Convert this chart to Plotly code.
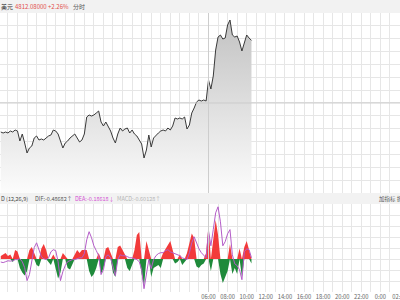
import pandas as pd
import plotly.graph_objects as go

# ---------------- data ----------------
prev_close = 4705.73
price = [4656.4, 4654.7, 4656.4, 4654.7, 4658.1, 4656.4, 4659.8, 4658.1, 4641.1, 4653.0, 4637.7,
         4620.7, 4629.2, 4632.6, 4646.2, 4649.6, 4642.8, 4644.5, 4642.8, 4646.2, 4649.6,
         4651.3, 4659.8, 4658.1, 4653.0, 4641.1, 4629.2, 4637.7, 4641.1, 4646.2, 4649.6,
         4653.0, 4646.2, 4639.4, 4642.8, 4653.0, 4681.9, 4685.3, 4683.6, 4685.3, 4688.7,
         4692.1, 4673.4, 4666.6, 4673.4, 4664.9, 4658.1, 4646.2, 4637.7, 4653.0, 4663.2,
         4658.1, 4661.5, 4663.2, 4654.7, 4659.8, 4653.0, 4649.6, 4642.8, 4636.0, 4612.2,
         4625.8, 4651.3, 4630.9, 4646.2, 4651.3, 4654.7, 4658.1, 4659.8, 4658.1, 4663.2,
         4659.8, 4666.6, 4680.2, 4678.5, 4680.2, 4678.5, 4681.9, 4661.5, 4668.3, 4688.7,
         4697.2, 4707.4, 4710.8, 4709.1, 4710.8, 4709.1, 4744.8, 4729.5, 4751.6, 4795.8,
         4817.9, 4821.3, 4814.5, 4816.2, 4838.3, 4846.8, 4821.3, 4817.9, 4819.6, 4809.4,
         4794.1, 4809.4, 4821.3, 4816.2, 4812.08]

dea = [-0.10, -0.12, -0.09, -0.06, -0.07, -0.06, -0.02, -0.02, 0.01, -0.09, -0.29,
       -0.72, -0.52, 0.01, 0.38, 0.54, 0.31, 0.08, 0.01, -0.02, 0.04,
       0.24, 0.31, 0.28, -0.09, -0.72, -0.42, -0.22, -0.09, -0.06, -0.02,
       -0.02, 0.01, 0.04, 0.04, 0.18, 0.64, 0.91, 0.71, 0.44, 0.28,
       0.11, -0.52, -0.36, 0.08, 0.14, 0.04, -0.29, -0.56, -0.02, 0.14,
       0.11, 0.11, 0.08, 0.04, 0.04, 0.01, -0.02, -0.09, -0.36, -0.99,
       -0.42, -0.02, -0.32, -0.02, 0.11, 0.18, 0.21, 0.21, 0.28, 0.31,
       0.24, 0.21, 0.18, 0.14, 0.11, 0.04, 0.01, -0.02, 0.21, 0.54,
       0.74, 0.54, 0.34, 0.21, 0.11, 0.04, 0.94, 0.44, 0.98, 1.54,
       1.74, 1.24, 0.44, 0.58, 0.84, 0.98, 0.14, -0.16, -0.22, -0.36,
       -0.69, 0.24, 0.34, 0.31, 0.04]

macd_hist = [0.10, 0.15, 0.20, 0.10, 0.15, -0.10, 0.30, 0.25, -0.30, -0.45, -0.55,
             -0.40, 0.30, 0.40, 0.20, -0.20, -0.25, 0.35, 0.50, 0.30, -0.10,
             -0.20, 0.15, -0.35, -0.65, -0.45, 0.20, 0.10, -0.30, -0.35, -0.20,
             0.15, 0.30, 0.20, 0.30, 0.30, 0.30, -0.40, -0.60, -0.50, -0.30,
             0.20, -0.50, -0.30, 0.35, 0.40, 0.20, -0.45, -0.60, 0.40, 0.45,
             0.30, 0.20, -0.30, -0.40, -0.20, 0.30, 0.80, 0.90, -0.50, -0.90,
             0.60, 0.30, -0.60, -0.30, -0.25, -0.20, -0.30, 0.20, 0.35, 0.50,
             0.60, 0.30, -0.15, -0.10, 0.15, -0.20, -0.10, 0.20, 0.50, 0.85,
             0.70, -0.25, -0.30, -0.20, -0.15, 0.20, 1.10, -0.40, 0.70, 1.30,
             0.80, -0.50, -0.80, -0.60, -0.40, 0.50, -0.50, -0.30, -0.50, 0.35,
             -0.60, 0.40, 0.60, 0.30, -0.15]

start_time = "2024-04-15 08:15"
times = pd.date_range(start_time, periods=len(price), freq="15min")

tick_vals = ["2024-04-16 06:00", "2024-04-16 08:00", "2024-04-16 10:00", "2024-04-16 12:00",
             "2024-04-16 14:00", "2024-04-16 16:00", "2024-04-16 18:00", "2024-04-16 20:00",
             "2024-04-16 22:00", "2024-04-17 00:00", "2024-04-17 02:00"]
tick_text = ["06:00", "08:00", "10:00", "12:00", "14:00", "16:00", "18:00", "20:00",
             "22:00", "0:00", "02:00"]

x_range = ["2024-04-15 08:10:06", "2024-04-17 02:03:08"]
price_range = [4552.7, 4858.7]
macd_range = [-1.1, 1.8333]

FONT = "Noto Sans CJK SC"
GRID = "#e6e6e6"
W, H = 400, 300

def py(px):  # paper y from pixel
    return 1 - px / H

fig = go.Figure()

# price area
fig.add_trace(go.Scatter(
    x=times, y=price, mode="lines", line=dict(color="#3a3a3a", width=1),
    fill="tozeroy",
    fillgradient=dict(type="vertical",
                      colorscale=[[0, "rgba(252,252,252,1)"], [1, "rgba(192,192,192,1)"]],
                      start=price_range[0], stop=price_range[1]),
    xaxis="x", yaxis="y", hoverinfo="skip", showlegend=False))

# MACD histogram drawn as spiky filled areas (red above zero, green below)
hist_up = [v if v > 0 else 0 for v in macd_hist]
hist_dn = [v if v < 0 else 0 for v in macd_hist]
fig.add_trace(go.Scatter(x=times, y=hist_up, mode="lines", line=dict(width=0, color="#f23a3a"),
                         fill="tozeroy", fillcolor="#f23a3a",
                         xaxis="x2", yaxis="y2", showlegend=False, hoverinfo="skip"))
fig.add_trace(go.Scatter(x=times, y=hist_dn, mode="lines", line=dict(width=0, color="#1f8a3b"),
                         fill="tozeroy", fillcolor="#1f8a3b",
                         xaxis="x2", yaxis="y2", showlegend=False, hoverinfo="skip"))
fig.add_trace(go.Scatter(x=times, y=dea, mode="lines", line=dict(color="#b45cc8", width=1),
                         xaxis="x2", yaxis="y2", showlegend=False, hoverinfo="skip"))

main_dom = [py(193), py(13)]
macd_dom = [py(292), py(204)]

common_x = dict(range=x_range, domain=[0, 1], automargin=False, showline=False, zeroline=False,
                showgrid=False,
                minor=dict(showgrid=True, gridcolor=GRID, gridwidth=1, dtick=3600000,
                           tick0="2024-04-16 00:00", ticks=""))
fig.update_layout(
    width=W, height=H, margin=dict(l=0, r=0, t=0, b=0, autoexpand=False),
    paper_bgcolor="white", plot_bgcolor="white",
    font=dict(family=FONT, size=6, color="#555"),
    xaxis=dict(**common_x, anchor="y", showticklabels=False, tickmode="array",
               tickvals=tick_vals, ticktext=tick_text),
    xaxis2=dict(**common_x, anchor="y2", matches="x", tickmode="array", tickvals=tick_vals,
                ticktext=tick_text, ticks="", ticklabeloverflow="allow",
                tickfont=dict(size=5.8, color="#666")),
    yaxis=dict(domain=main_dom, range=price_range, showticklabels=False, zeroline=False,
               showgrid=True, gridcolor=GRID, tick0=prev_close,
               dtick=(price_range[1] - price_range[0]) / 14),
    yaxis2=dict(domain=macd_dom, range=macd_range, showticklabels=False, zeroline=False,
                showgrid=True, gridcolor=GRID, tick0=0, dtick=(macd_range[1] - macd_range[0]) / 8),
)

# header bands
fig.add_shape(type="rect", xref="paper", yref="paper", x0=0, x1=1, y0=py(13), y1=py(0),
              fillcolor="#f2f2f2", line=dict(width=0), layer="below")
fig.add_shape(type="rect", xref="paper", yref="paper", x0=0, x1=1, y0=py(204), y1=py(193),
              fillcolor="#f2f2f2", line=dict(width=0), layer="below")
# previous close line and session line
fig.add_shape(type="line", xref="paper", yref="y", x0=0, x1=1, y0=prev_close, y1=prev_close,
              line=dict(color="#cccccc", width=1))
for ax_y in ["y domain", "y2 domain"]:
    fig.add_shape(type="line", xref="x", yref=ax_y, x0=tick_vals[0], x1=tick_vals[0], y0=0, y1=1,
                  line=dict(color="#cdcdcd", width=1))

def txt(x, y, s, color, size=5.5):
    fig.add_annotation(x=x / W, y=py(y), xref="paper", yref="paper", text=s, showarrow=False,
                       xanchor="left", yanchor="middle", font=dict(family=FONT, size=size, color=color))

txt(-1, 6.5, "美元", "#333", 6)
txt(13, 6.5, "4812.08000 +2.26%", "#e2504c", 6)
txt(71, 6.5, "分时", "#555", 6)

txt(-1, 198.5, "D (12,26,9)", "#444")
txt(33, 198.5, "DIF:-0.48682↑", "#555")
txt(73, 198.5, "DEA:-0.18618↓", "#d24fd2")
txt(115, 198.5, "MACD:-0.60128↑", "#b5b5b5")
txt(377, 198.5, "加指标 折", "#555")

fig.write_html("out.html")
